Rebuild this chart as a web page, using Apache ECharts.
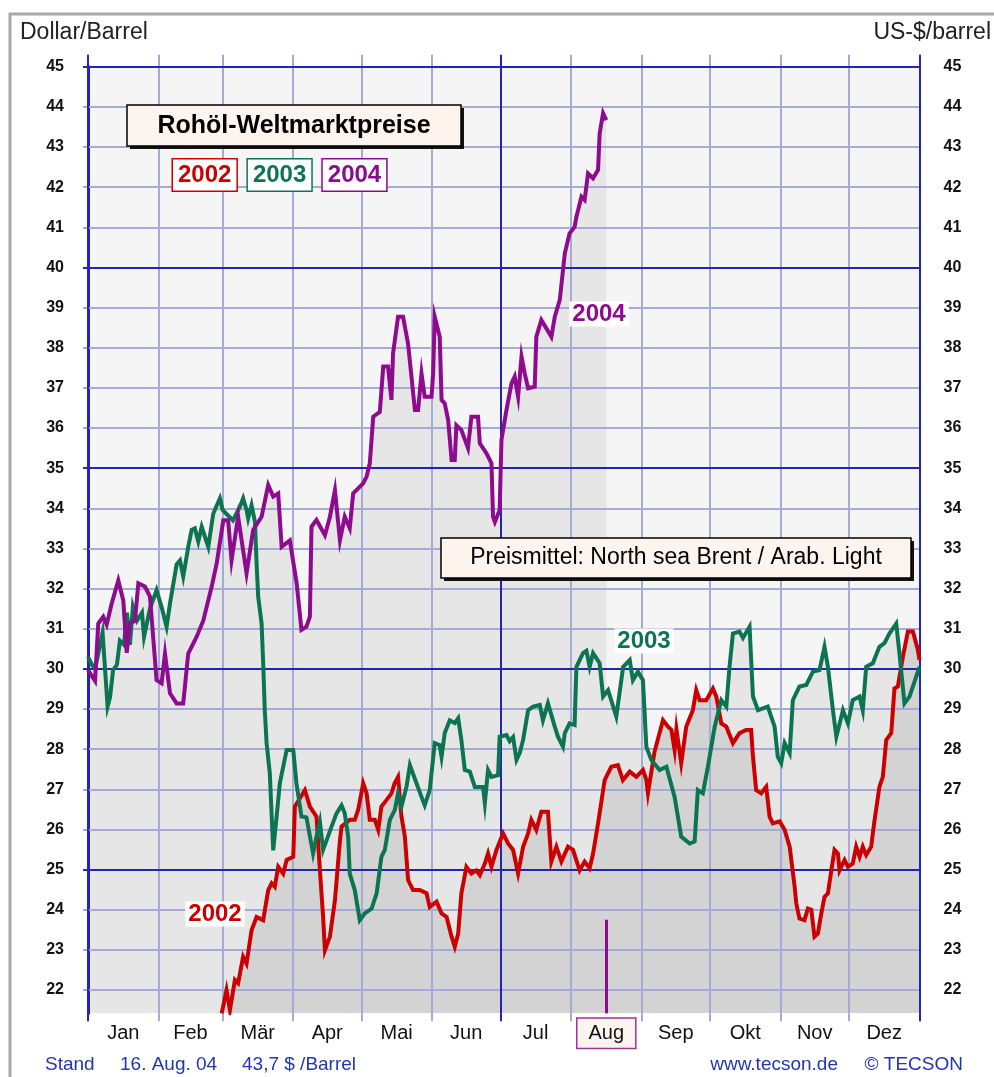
<!DOCTYPE html>
<html>
<head>
<meta charset="utf-8">
<title>Rohöl-Weltmarktpreise</title>
<script src="https://cdn.jsdelivr.net/npm/echarts@6/dist/echarts.min.js"></script>
<style>
  html, body { margin: 0; padding: 0; background: #fff; }
  #chart { width: 994px; height: 1077px; }
</style>
</head>
<body>
<div id="chart"></div>
<script>
// x axis is day of year (0 = 1. Jan)
const months = ['Jan', 'Feb', 'Mär', 'Apr', 'Mai', 'Jun', 'Jul', 'Aug', 'Sep', 'Okt', 'Nov', 'Dez'];
const monthStarts = [0, 31, 59, 90, 120, 151, 181, 212, 243, 273, 304, 334, 365];
const majorDays = [0, 181, 365];
const priceTicks = [22, 23, 24, 25, 26, 27, 28, 29, 30, 31, 32, 33, 34, 35, 36, 37, 38, 39, 40, 41, 42, 43, 44, 45];
const majorPrices = [25, 30, 35, 40, 45];

// [day of year, US-$/barrel]
const y2002 = [[58.7,21.42],[60.8,22.0],[62.3,21.5],[64.5,22.25],[65.9,22.17],[68.1,22.83],[69.6,22.66],[71.8,23.49],[74,23.82],[76.9,23.74],[79.1,24.49],[80.6,24.66],[82,24.57],[83.5,25.07],[85.7,24.9],[87.2,25.24],[90.1,25.32],[90.8,26.57],[95.2,26.98],[97.4,26.57],[100.3,26.32],[101.8,24.98],[103.2,23.82],[104,22.99],[106.2,23.33],[108.4,24.24],[110.6,25.73],[111.3,26.07],[114.9,26.24],[117.1,26.24],[118.6,26.49],[120.8,27.15],[122.3,26.9],[123.7,26.24],[125.9,26.24],[127.4,25.99],[128.8,26.57],[131,26.73],[133.2,26.9],[134.6,27.15],[136.1,27.31],[137.6,26.32],[139.1,25.82],[140.5,24.74],[142.7,24.49],[145.6,24.49],[148.6,24.41],[150,24.07],[153,24.2],[155.2,23.91],[157.4,23.82],[159.6,23.33],[161,23.08],[162.5,23.41],[163.9,24.41],[166.1,25.07],[168.3,24.9],[170.5,24.98],[172,24.86],[174.2,25.15],[175.6,25.4],[177.1,25.07],[179.3,25.49],[182.2,25.9],[184.4,25.65],[186.6,25.49],[188.8,24.9],[191,25.57],[193.2,25.9],[194.6,26.24],[196.8,25.99],[199,26.44],[201.9,26.44],[203.4,25.2],[205.6,25.57],[207.8,25.2],[210.7,25.57],[212.9,25.49],[215.8,24.98],[218,25.2],[220.2,25.03],[221.7,25.4],[223.9,26.15],[226.8,27.23],[229.7,27.56],[232.6,27.6],[234.8,27.23],[237.8,27.44],[240.7,27.31],[243.6,27.48],[245.1,27.23],[245.8,26.9],[248.7,27.94],[252.4,28.72],[254.6,28.56],[256.1,28.48],[257.5,27.98],[258.3,28.5],[260.4,27.65],[262.6,28.56],[265.5,28.97],[267,29.47],[268.5,29.22],[271.4,29.22],[274.3,29.51],[275.8,29.31],[278,28.64],[280.2,28.56],[283.1,28.15],[286,28.4],[288.9,28.48],[291.1,28.48],[291.9,27.81],[293.3,26.98],[295.5,26.9],[297.7,27.06],[299.2,26.32],[300.6,26.15],[303.6,26.2],[305.8,25.99],[308,25.57],[310.2,24.57],[310.9,24.16],[312.3,23.78],[314.5,23.74],[316,24.03],[317.5,24.0],[318.9,23.33],[320.4,23.41],[321.9,23.91],[323.3,24.32],[324.8,24.41],[326.3,24.98],[327.7,25.49],[329.2,25.4],[329.9,24.98],[332.1,25.24],[333.6,25.07],[335.7,25.15],[337.2,25.57],[338.7,25.32],[340.1,25.57],[341.6,25.36],[343.8,25.57],[344.5,25.9],[345.3,26.24],[347.4,27.06],[348.9,27.31],[350.4,28.23],[352.6,28.4],[354,29.51],[355.5,29.56],[357.7,30.3],[359.9,30.93],[362.1,30.93],[364.3,30.47],[365,30.22]];

const y2003 = [[0,30.3],[1.8,30.1],[3.1,30.0],[6.4,30.9],[8.6,29.06],[9.7,29.3],[11,29.97],[12.7,30.1],[14,30.7],[15.8,30.6],[17.1,31.4],[18.4,30.6],[19.7,31.55],[21.5,31.2],[23.7,31.4],[24.6,30.8],[27.2,31.5],[30.1,31.96],[32.5,31.5],[34.5,31.05],[36,31.63],[38.9,32.6],[40.4,32.7],[41.8,32.3],[44,33.04],[45.5,33.46],[46.9,33.5],[48.4,33.17],[49.9,33.54],[52.8,33.04],[55,33.87],[57.9,34.25],[59.1,33.96],[63.6,33.7],[66.7,34.04],[68.1,34.25],[69.6,33.96],[70.3,33.75],[71.8,34.08],[73.3,33.66],[74,32.63],[74.7,31.8],[76.2,31.13],[76.9,30.14],[77.6,28.97],[78.4,28.15],[79.8,27.4],[81.3,25.48],[82.8,26.32],[84.2,27.15],[87.2,27.98],[90.1,27.98],[91.5,27.15],[93.7,26.32],[95.9,26.3],[98.8,25.4],[100.3,25.82],[101.8,26.19],[103.2,25.49],[106.9,26.07],[109.1,26.4],[111.3,26.6],[112.7,26.4],[114.2,25.82],[114.9,24.9],[117.1,24.49],[119.3,23.74],[121.5,23.91],[124.5,24.03],[126.7,24.41],[128.8,25.32],[130.3,25.49],[132.5,26.24],[134.7,26.49],[136.1,26.9],[137.6,26.57],[139.8,27.06],[141.3,27.6],[144.2,27.15],[146.4,26.81],[147.8,26.6],[150,26.98],[152.2,28.15],[154.4,28.1],[155.2,27.81],[156.6,28.4],[158.8,28.72],[161,28.65],[162.5,28.77],[163.9,28.23],[165.4,27.48],[167.6,27.44],[169.8,27.06],[173.4,27.06],[174.2,26.65],[175.6,27.48],[177.1,27.31],[180,27.35],[180.7,28.31],[183.7,28.35],[185.1,28.2],[186.6,28.3],[188.1,27.73],[189.5,27.9],[191,28.23],[193.2,28.97],[195.4,29.06],[198.3,29.1],[199.7,28.72],[201.9,29.14],[204.9,28.56],[206.3,28.31],[208.5,28.06],[209.3,28.4],[211.4,28.64],[213.6,28.6],[214.4,30.05],[217.3,30.39],[218.8,30.45],[220.2,30.05],[221.7,30.39],[224.6,30.14],[226.1,29.31],[228.3,29.47],[231.9,28.81],[234.9,30.05],[237.8,30.22],[239.2,29.72],[241.4,29.93],[243.6,29.72],[245.1,28.06],[247.3,27.73],[250.9,27.48],[253.9,27.56],[257.5,26.81],[260.4,25.82],[264.1,25.65],[266.3,25.7],[267.7,26.98],[269.9,26.9],[272.1,27.56],[275.1,28.56],[278,29.22],[280.2,29.06],[281.6,30.05],[283.1,30.88],[286,30.93],[287.5,30.77],[290.4,31.05],[291.9,29.31],[294.1,28.97],[298.4,29.06],[301.4,28.56],[302.8,27.81],[304.3,27.65],[305.8,28.15],[308,27.9],[309.4,29.22],[312.3,29.56],[315.3,29.6],[318.2,29.93],[321.1,29.97],[323.3,30.55],[324.8,30.05],[327,28.97],[328.5,28.31],[331.4,28.97],[333.6,28.64],[335.7,29.22],[338.7,29.31],[340.1,28.97],[341.6,30.05],[344.5,30.14],[347.4,30.55],[349.6,30.64],[351.8,30.88],[354.8,31.13],[356.2,30.39],[358.4,29.14],[360.6,29.31],[365,30.05]];

const y2004 = [[0,29.97],[3.1,29.7],[4.5,31.13],[6.7,31.3],[8.2,31.1],[10.4,31.63],[13.3,32.2],[15.5,31.7],[17,30.4],[18.4,31.13],[20.6,31.2],[22.1,32.13],[25,32.05],[27.2,31.8],[30.1,29.72],[32.3,29.64],[33.8,30.38],[36,29.39],[38.9,29.14],[41.8,29.14],[44,30.38],[47.7,30.8],[50.6,31.2],[54.3,32.05],[56.5,32.63],[59.4,33.7],[61.5,33.7],[63,32.7],[65.9,33.79],[69.6,32.38],[72.5,33.46],[76.2,33.79],[79.1,34.58],[81.3,34.29],[83.5,34.37],[85,33.04],[88.6,33.2],[91.6,32.13],[93.7,30.97],[95.9,31.05],[97.4,31.3],[98.1,33.54],[100.3,33.71],[104,33.33],[106.2,33.79],[108.4,34.45],[110.6,33.2],[112.7,33.79],[114.9,33.5],[116.4,34.37],[120.8,34.62],[122.3,34.79],[123.7,35.12],[125.2,36.28],[128.1,36.4],[129.6,37.53],[131.7,37.53],[133.2,36.7],[133.9,37.86],[136.1,38.77],[138.3,38.77],[140.5,38.1],[143.5,36.45],[144.9,36.45],[146.4,37.36],[147.8,36.78],[150.8,36.78],[151.5,37.36],[152.2,38.77],[154.4,38.27],[155.2,36.7],[156.6,36.61],[158.1,36.2],[159.6,35.2],[161,35.2],[161.7,36.07],[163.9,35.95],[166.8,35.5],[168.3,36.28],[171.2,36.28],[172,35.62],[174.9,35.37],[177.1,35.12],[177.8,33.79],[178.6,33.66],[180.7,33.96],[181.5,35.7],[183.7,36.45],[185.9,37.11],[187.3,37.28],[188.8,36.78],[190.3,37.78],[191.7,37.36],[193.2,36.99],[196.1,37.03],[196.8,38.27],[199,38.69],[203.4,38.27],[204.9,38.77],[207.1,39.19],[209.3,40.35],[211.4,40.85],[213.6,41.01],[214.4,41.26],[216.6,41.76],[218,41.68],[219.5,42.34],[221.7,42.22],[223.9,42.43],[224.6,43.34],[226.1,43.84],[227.5,43.67]];

// Stand 16. Aug. 04
const standDay = 227.5;
const standMarkTop = 23.75;

const yMin = 21.42;
const yMax = 45;

const RED = '#cc0000';
const GREEN = '#0c7450';
const PURPLE = '#8e0a8e';
const THIN = '#a4acd6';
const MAJOR = '#2424b4';
const FONT = "'Liberation Sans', Arial, sans-serif";

const monthMids = months.map((m, i) => (monthStarts[i] + monthStarts[i + 1]) / 2);

var chart = echarts.init(document.getElementById('chart'), null, { renderer: 'canvas' });

function areaSeries(name, data, color) {
  return {
    name: name, type: 'line', data: data, z: 1,
    symbol: 'none', silent: true,
    lineStyle: { width: 0, opacity: 0 },
    areaStyle: { color: color, opacity: 1, origin: 'start' }
  };
}

function lineSeries(name, data, color, z) {
  return {
    name: name, type: 'line', data: data, z: z,
    symbol: 'none', silent: true,
    lineStyle: { color: color, width: 4, join: 'miter' }
  };
}

function xAxisDef(position, ticks, tickColor, tickLen, withSplit, withLabels, z) {
  return {
    type: 'value', position: position, min: 0, max: 365, z: z,
    axisLine: { show: false },
    axisTick: { show: true, customValues: ticks, length: tickLen, lineStyle: { color: tickColor, width: 2 } },
    splitLine: { show: withSplit, lineStyle: { color: tickColor, width: 2 } },
    axisLabel: withLabels ? {
      show: true,
      customValues: monthMids,
      margin: 10,
      formatter: function (v) {
        const name = months[monthMids.indexOf(v)];
        return name === 'Aug' ? '{hl|' + name + '}' : '{m|' + name + '}';
      },
      rich: {
        m: { fontFamily: FONT, fontSize: 20, color: '#111', lineHeight: 20, padding: [5, 11, 4, 11] },
        hl: { fontFamily: FONT, fontSize: 20, color: '#111', lineHeight: 20, padding: [5, 11, 4, 11],
              borderColor: '#a0309a', borderWidth: 1.5, backgroundColor: '#fdf3ef' }
      }
    } : { show: false }
  };
}

function yAxisDef(position, ticks, tickColor, withSplit, withLabels, axisLine, z) {
  return {
    type: 'value', position: position, min: yMin, max: yMax, z: z,
    axisLine: { show: axisLine, lineStyle: { color: MAJOR, width: 3 } },
    axisTick: { show: true, customValues: ticks, length: 5, lineStyle: { color: tickColor, width: 2 } },
    splitLine: { show: withSplit, lineStyle: { color: tickColor, width: 2 } },
    axisLabel: withLabels ? {
      show: true, customValues: priceTicks, margin: 24,
      fontFamily: FONT, fontSize: 16, fontWeight: 'bold', color: '#111'
    } : { show: false }
  };
}

function boxWithShadow(x, y, w, h) {
  return [
    { type: 'rect', z: 100, shape: { x: x + 3, y: y + 3, width: w, height: h }, style: { fill: '#111' } },
    { type: 'rect', z: 101, shape: { x: x, y: y, width: w, height: h }, style: { fill: '#fdf4ee', stroke: '#000', lineWidth: 1.5 } }
  ];
}

function tag(text, x, y, color) {
  return {
    type: 'text', z: 102, x: x, y: y,
    style: {
      text: text, fill: color, font: 'bold 24px ' + FONT,
      align: 'center', verticalAlign: 'middle',
      backgroundColor: '#fff', padding: [1, 3, 0, 3]
    }
  };
}

const option = {
  animation: false,
  backgroundColor: '#fff',
  grid: {
    left: 88, right: 74.5, top: 66.7, bottom: 63.7,
    show: true, backgroundColor: '#f5f5f5', borderWidth: 0
  },
  legend: {
    left: 168, top: 158, padding: 0, itemGap: 5, itemWidth: 0, itemHeight: 0,
    icon: 'none', selectedMode: false,
    textStyle: {
      fontFamily: FONT, fontSize: 24, fontWeight: 'bold', lineHeight: 26,
      padding: [3, 5, 2, 5], borderWidth: 1.5, backgroundColor: '#fff'
    },
    data: [
      { name: '2002', textStyle: { color: RED, borderColor: RED } },
      { name: '2003', textStyle: { color: GREEN, borderColor: GREEN } },
      { name: '2004', textStyle: { color: PURPLE, borderColor: PURPLE } }
    ]
  },
  xAxis: [
    xAxisDef('bottom', monthStarts, THIN, 8, true, true, 2),
    xAxisDef('top', monthStarts, THIN, 12, false, false, 2),
    xAxisDef('bottom', majorDays, MAJOR, 8, true, false, 2.2),
    xAxisDef('top', majorDays, MAJOR, 12, false, false, 2.2)
  ],
  yAxis: [
    yAxisDef('left', priceTicks, THIN, true, true, true, 2),
    yAxisDef('right', priceTicks, THIN, false, true, true, 2),
    yAxisDef('left', majorPrices, MAJOR, true, false, false, 2.2)
  ],
  series: [
    areaSeries('2004', y2004, '#e6e6e6'),
    areaSeries('2003', y2003, '#e6e6e6'),
    areaSeries('2002', y2002, '#d3d3d3'),
    lineSeries('2002', y2002, RED, 3),
    lineSeries('2003', y2003, GREEN, 3.1),
    Object.assign(lineSeries('2004', y2004, PURPLE, 3.2), {
      markLine: {
        silent: true, symbol: ['none', 'none'], label: { show: false },
        lineStyle: { color: PURPLE, width: 3, type: 'solid' },
        data: [[{ coord: [standDay, yMin] }, { coord: [standDay, standMarkTop] }]]
      }
    })
  ],
  graphic: [
    { type: 'rect', z: 90, shape: { x: 10, y: 14, width: 1000, height: 1100 }, style: { fill: 'none', stroke: '#a8a8a8', lineWidth: 3 } },
    { type: 'text', z: 100, x: 20, y: 33, style: { text: 'Dollar/Barrel', font: '23px ' + FONT, fill: '#222', verticalAlign: 'middle' } },
    { type: 'text', z: 100, x: 991, y: 33, style: { text: 'US-$/barrel', font: '23px ' + FONT, fill: '#222', align: 'right', verticalAlign: 'middle' } },
    ...boxWithShadow(127, 105, 334, 41),
    { type: 'text', z: 102, x: 294, y: 126, style: { text: 'Rohöl-Weltmarktpreise', font: 'bold 25px ' + FONT, fill: '#000', align: 'center', verticalAlign: 'middle' } },
    ...boxWithShadow(441, 538, 470, 40),
    { type: 'text', z: 102, x: 676, y: 558, style: { text: 'Preismittel: North sea Brent / Arab. Light', font: '23px ' + FONT, fill: '#000', align: 'center', verticalAlign: 'middle' } },
    tag('2004', 599, 314, PURPLE),
    tag('2003', 644, 641, GREEN),
    tag('2002', 215, 914, RED),
    { type: 'text', z: 100, x: 45, y: 1065, style: { text: 'Stand', font: '19px ' + FONT, fill: '#2435b0', verticalAlign: 'middle' } },
    { type: 'text', z: 100, x: 120, y: 1065, style: { text: '16. Aug. 04', font: '19px ' + FONT, fill: '#2435b0', verticalAlign: 'middle' } },
    { type: 'text', z: 100, x: 242, y: 1065, style: { text: '43,7 $ /Barrel', font: '19px ' + FONT, fill: '#2435b0', verticalAlign: 'middle' } },
    { type: 'text', z: 100, x: 838, y: 1065, style: { text: 'www.tecson.de', font: '19px ' + FONT, fill: '#2435b0', align: 'right', verticalAlign: 'middle' } },
    { type: 'text', z: 100, x: 963, y: 1065, style: { text: '© TECSON', font: '19px ' + FONT, fill: '#2435b0', align: 'right', verticalAlign: 'middle' } }
  ]
};

chart.setOption(option);
</script>
</body>
</html>
